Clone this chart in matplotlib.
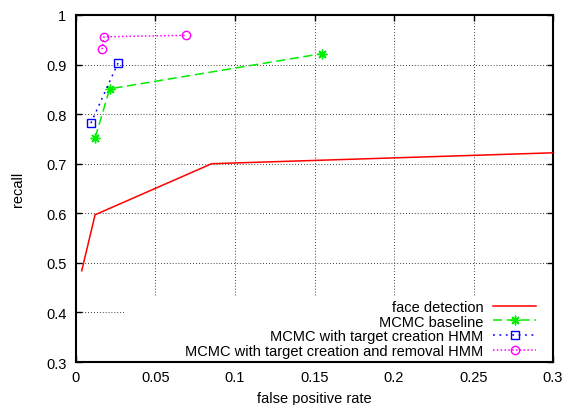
import matplotlib
matplotlib.use("Agg")
import matplotlib.pyplot as plt
from matplotlib.patches import Rectangle
from matplotlib.ticker import FuncFormatter

plt.rcParams['font.family'] = ['Liberation Sans', 'DejaVu Sans']

# data
face_x = [0.0036, 0.012, 0.0853, 0.3]
face_y = [0.484, 0.597, 0.700, 0.722]
base_x = [0.012, 0.0212, 0.1547]
base_y = [0.752, 0.851, 0.922]
creat_x = [0.0094, 0.0264]
creat_y = [0.782, 0.903]
remov_x = [0.0164, 0.0176, 0.0692]
remov_y = [0.931, 0.956, 0.959]

xticks = [0, 0.05, 0.1, 0.15, 0.2, 0.25, 0.3]
yticks = [0.3, 0.4, 0.5, 0.6, 0.7, 0.8, 0.9, 1.0]

fs = 10.5

fig = plt.figure(figsize=(5.65, 4.06), dpi=100)
ax = fig.add_axes([0.1345, 0.1059, 0.8443, 0.8547])

ax.plot(face_x, face_y, color="#ff0000", lw=1.1, label="face detection", zorder=3)
ax.plot(base_x, base_y, color="#00ee00", lw=1.1, ls=(0, (6, 3)), marker=(8, 2, 0),
        ms=7, mew=1.0, label="MCMC baseline", zorder=3)
ax.plot(creat_x, creat_y, color="#0000ff", lw=1.1, ls=(0, (1.2, 3)), marker="s",
        ms=5.5, mfc="none", mew=1.0, label="MCMC with target creation HMM", zorder=3)
ax.plot(remov_x, remov_y, color="#ff00ff", lw=1.1, ls=(0, (1, 1.5)), marker="o",
        ms=6, mfc="none", mew=1.0, label="MCMC with target creation and removal HMM", zorder=3)

ax.set_xlim(0, 0.3)
ax.set_ylim(0.3, 1.0)
ax.set_xticks(xticks)
ax.set_yticks(yticks)
ax.xaxis.set_major_formatter(FuncFormatter(lambda v, p: "%g" % round(v, 3)))
ax.yaxis.set_major_formatter(FuncFormatter(lambda v, p: "%g" % round(v, 3)))
ax.tick_params(direction="in", length=4, width=1, top=True, right=True,
               labelsize=fs, colors="black")
ax.tick_params(axis="y", pad=7)
ax.tick_params(axis="x", pad=6)
ax.grid(True, color="black", lw=0.6, ls=(0, (1, 2.5)))
for s in ax.spines.values():
    s.set_linewidth(1.5)

# white area behind the key, like gnuplot
ax.add_patch(Rectangle((0.103, 0), 0.897, 0.187, transform=ax.transAxes,
                       facecolor="white", edgecolor="none", zorder=1.8))

ax.set_xlabel("false positive rate", fontsize=fs, labelpad=5)
ax.set_ylabel("recall", fontsize=fs, labelpad=15)

leg = ax.legend(loc="lower right", bbox_to_anchor=(0.985, -0.018), markerfirst=False,
                frameon=False, fontsize=fs, handlelength=2.9, handletextpad=0.7,
                labelspacing=0.05, borderpad=0.2)
for col in leg._legend_handle_box.get_children():
    col.align = "right"

fig.savefig("out.png", dpi=100)
